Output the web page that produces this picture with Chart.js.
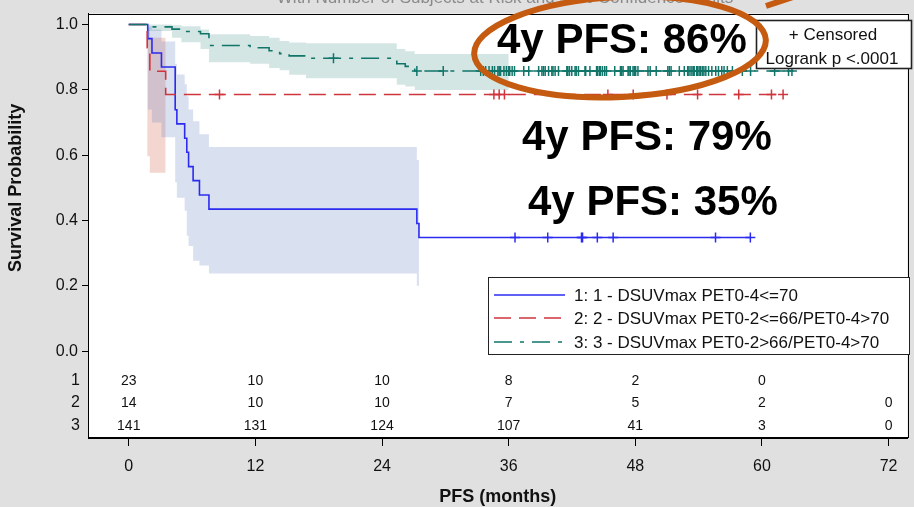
<!DOCTYPE html>
<html><head><meta charset="utf-8">
<script src="https://cdn.jsdelivr.net/npm/chart.js@4.4.1/dist/chart.umd.min.js"></script>
<style>html,body{margin:0;padding:0;background:#e0e0e0;overflow:hidden}#wrap{width:914px;height:507px;position:relative}</style>
</head><body><div id="wrap"><canvas id="c" width="914" height="507"></canvas></div>
<script>
// ---------- data ----------
const xTicks = [0, 12, 24, 36, 48, 60, 72];
const yTicks = [0, 0.2, 0.4, 0.6, 0.8, 1.0];
const groupNames = ['1: 1 - DSUVmax PET0-4<=70', '2: 2 - DSUVmax PET0-2<=66/PET0-4>70', '3: 3 - DSUVmax PET0-2>66/PET0-4>70'];
const riskRowLabels = ['1', '2', '3'];
const atRisk1 = [23, 10, 10, 8, 2, 0, null];
const atRisk2 = [14, 10, 10, 7, 5, 2, 0];
const atRisk3 = [141, 131, 124, 107, 41, 3, 0];

// Kaplan-Meier step curves (time in months, survival)
const g1Time = [0, 1.8, 2.2, 3.1, 4.4, 4.56, 5.3, 5.5, 5.67, 6.1, 6.7, 7.6, 27.3, 27.5, 58.9];
const g1Surv = [1, 0.957, 0.913, 0.870, 0.739, 0.696, 0.652, 0.609, 0.565, 0.522, 0.478, 0.435, 0.391, 0.348, 0.348];
const g2Time = [0, 1.75, 2.0, 3.5, 62.0];
const g2Surv = [1, 0.929, 0.857, 0.786, 0.786];
const g3Time = [0, 1.7, 4.1, 5.0, 6.8, 7.6, 11.5, 13.3, 14.3, 15.2, 16.8, 25.4, 26.2, 27.1, 62.84];
const g3Surv = [1, 0.993, 0.986, 0.979, 0.972, 0.936, 0.929, 0.920, 0.911, 0.904, 0.897, 0.880, 0.872, 0.858, 0.858];

// censored times
const g1Cens = [36.6, 39.7, 42.9, 43.0, 44.4, 45.9, 55.6, 58.9];
const g2Cens = [8.6, 34.6, 35.1, 35.6, 45.4, 47.8, 51.0, 53.9, 57.8, 60.9, 62.0];
const g3Cens = [19.4, 27.3, 29.8, 33.35, 33.6, 33.82, 34.14, 34.45, 34.66, 34.98, 35.1, 35.23, 35.55, 35.79, 36.0, 36.1,
  36.33, 36.55, 37.43, 37.9, 38.84, 39.15, 39.3, 39.46, 39.78, 40.09, 40.2, 40.4, 40.72, 41.51, 41.6, 41.76, 41.98,
  42.29, 42.4, 42.61, 43.23, 43.3, 43.7, 44.33, 44.4, 44.58, 44.7, 44.89, 45.1, 45.27, 46.05, 46.59, 46.7, 46.84,
  47.31, 47.4, 47.53, 47.78, 47.9, 48.03, 48.25, 49.2, 49.41, 49.98, 51.08, 51.23, 51.39, 52.17, 52.64, 52.96, 53.0,
  53.18, 53.36, 53.5, 53.58, 53.81, 53.9, 54.05, 54.2, 54.37, 54.5, 54.68, 54.94, 55.25, 55.62, 55.88, 56.19, 56.41,
  56.72, 57.2, 58.14, 58.92, 61.2, 62.52, 62.84];

// 95% confidence bands (step)
const g1BandTime = [1.8, 2.2, 3.1, 4.4, 4.56, 5.3, 5.5, 5.67, 6.1, 6.7, 7.6, 27.3, 27.5];
const g1Upper = [0.995, 0.985, 0.948, 0.88, 0.847, 0.817, 0.78, 0.74, 0.704, 0.664, 0.625, 0.585, 0.585];
const g1Lower = [0.74, 0.70, 0.655, 0.517, 0.47, 0.43, 0.353, 0.322, 0.277, 0.262, 0.238, 0.20, 0.20];
const g2BandTime = [1.75, 2.0, 3.5];
const g2Upper = [0.99, 0.96, 0.96];
const g2Lower = [0.597, 0.546, 0.546];
const g3BandTime = [1.7, 4.1, 5.0, 6.8, 7.6, 11.5, 13.3, 14.3, 15.2, 16.8, 25.4, 26.2, 27.1, 36.0];
const g3Upper = [1.0, 0.998, 0.995, 0.985, 0.97, 0.965, 0.96, 0.95, 0.945, 0.943, 0.925, 0.918, 0.91, 0.91];
const g3Lower = [0.98, 0.96, 0.946, 0.925, 0.885, 0.88, 0.867, 0.86, 0.846, 0.836, 0.816, 0.81, 0.80, 0.80];

const annoTexts = ['4y PFS: 86%', '4y PFS: 79%', '4y PFS: 35%'];
const statLines = ['+ Censored', 'Logrank p <.0001'];
const topTitle = 'With Number of Subjects at Risk and 95% Confidence Limits';

// ---------- styles ----------
const C1 = '#2b2bf0', C2 = '#d0343c', C3 = '#11756a';
const F = "'Liberation Sans', Arial, sans-serif";

function pts(t, v) { return t.map((x, i) => ({ x: x, y: v[i] })); }
function survAt(t, s, x) { let v = s[0]; for (let i = 0; i < t.length; i++) { if (t[i] <= x) v = s[i]; } return v; }
function censPts(ct, t, s) { return ct.map(x => ({ x: x, y: survAt(t, s, x) })); }

const lineDs = (data, color, dash, order) => ({ data: data, borderColor: color, borderWidth: 1.6, borderDash: dash, stepped: true, pointRadius: 0, fill: false, order: order });
const censDs = (data, color, order) => ({ data: data, showLine: false, pointStyle: 'cross', pointRadius: 5, pointBorderColor: color, borderColor: color, pointBorderWidth: 1.5, order: order });
const bandUp = (data, color) => ({ data: data, stepped: true, borderWidth: 0, pointRadius: 0, fill: '+1', backgroundColor: color, order: 10 });
const bandLo = (data) => ({ data: data, stepped: true, borderWidth: 0, pointRadius: 0, fill: false, order: 10 });

const datasets = [
  bandUp(pts(g1BandTime, g1Upper), 'rgba(102,130,196,0.25)'), bandLo(pts(g1BandTime, g1Lower)),
  bandUp(pts(g2BandTime, g2Upper), 'rgba(220,120,100,0.30)'), bandLo(pts(g2BandTime, g2Lower)),
  bandUp(pts(g3BandTime, g3Upper), 'rgba(40,130,120,0.20)'), bandLo(pts(g3BandTime, g3Lower)),
  lineDs(pts(g1Time, g1Surv), C1, [], 3),
  lineDs(pts(g2Time, g2Surv), C2, [17, 8], 2),
  lineDs(pts(g3Time, g3Surv), C3, [18, 8, 4, 8], 1),
  censDs(censPts(g1Cens, g1Time, g1Surv), C1, 3),
  censDs(censPts(g2Cens, g2Time, g2Surv), C2, 2),
  censDs(censPts(g3Cens, g3Time, g3Surv), C3, 1)
];

const deco = {
  id: 'deco',
  beforeDraw(chart) {
    const ctx = chart.ctx, a = chart.chartArea;
    ctx.save();
    ctx.fillStyle = '#e0e0e0'; ctx.fillRect(0, 0, chart.width, chart.height);
    ctx.fillStyle = '#ffffff'; ctx.fillRect(a.left, a.top, a.right - a.left, a.bottom - a.top);
    ctx.restore();
  },
  afterDraw(chart) {
    const ctx = chart.ctx, a = chart.chartArea, xs = chart.scales.x, ys = chart.scales.y;
    ctx.save();
    // frame
    ctx.strokeStyle = '#000'; ctx.lineWidth = 1;
    ctx.strokeRect(Math.round(a.left) + 0.5, Math.round(a.top) + 0.5, Math.round(a.right - a.left), Math.round(a.bottom - a.top) - 1);
    // at-risk table
    const rows = [atRisk1, atRisk2, atRisk3];
    const rowY = [381, 403, 426];
    ctx.fillStyle = '#111'; ctx.textAlign = 'center'; ctx.textBaseline = 'middle';
    ctx.font = '14px ' + F;
    rows.forEach((r, ri) => r.forEach((v, i) => { if (v !== null) ctx.fillText(String(v), xs.getPixelForValue(xTicks[i]), rowY[ri]); }));
    ctx.font = '16px ' + F; ctx.textAlign = 'right';
    riskRowLabels.forEach((l, i) => ctx.fillText(l, 80, rowY[i]));
    // y title
    ctx.save(); ctx.translate(16, (ys.getPixelForValue(0) + ys.getPixelForValue(1)) / 2); ctx.rotate(-Math.PI / 2);
    ctx.textAlign = 'center'; ctx.font = 'bold 18px ' + F; ctx.fillStyle = '#111'; ctx.fillText('Survival Probability', 0, 0); ctx.restore();
    // legend
    ctx.fillStyle = '#fff'; ctx.fillRect(488.5, 277.5, 421, 77);
    ctx.strokeStyle = '#222'; ctx.lineWidth = 1; ctx.strokeRect(488.5, 277.5, 421, 77);
    const lgY = [295, 318, 342], cols = [C1, C2, C3], dashes = [[], [17, 8], [18, 8, 4, 8]];
    for (let i = 0; i < 3; i++) {
      ctx.beginPath(); ctx.setLineDash(dashes[i]); ctx.strokeStyle = cols[i]; ctx.lineWidth = 1.6;
      ctx.moveTo(494, lgY[i]); ctx.lineTo(565, lgY[i]); ctx.stroke();
    }
    ctx.setLineDash([]);
    ctx.fillStyle = '#111'; ctx.textAlign = 'left'; ctx.font = '17px ' + F;
    groupNames.forEach((n, i) => ctx.fillText(n, 574, lgY[i] + 1));
    // stats box
    ctx.fillStyle = '#fff'; ctx.fillRect(756.5, 20.5, 155, 48);
    ctx.strokeStyle = '#222'; ctx.strokeRect(756.5, 20.5, 155, 48);
    ctx.fillStyle = '#111'; ctx.textAlign = 'center'; ctx.font = '17px ' + F;
    ctx.fillText(statLines[0], 833, 35); ctx.fillText(statLines[1], 832, 59);
    // top title (cut off)
    ctx.fillStyle = '#8a8a8a'; ctx.font = '17px ' + F; ctx.textAlign = 'center'; ctx.textBaseline = 'alphabetic';
    ctx.fillText(topTitle, 505, 3);
    // big annotations
    ctx.fillStyle = '#000'; ctx.textAlign = 'left'; ctx.font = 'bold 42px ' + F;
    ctx.fillText(annoTexts[0], 497, 53);
    ctx.fillText(annoTexts[1], 522, 150);
    ctx.fillText(annoTexts[2], 528, 215);
    // ellipse + arrow
    ctx.strokeStyle = '#c55a11'; ctx.lineWidth = 6;
    ctx.beginPath(); ctx.ellipse(620, 47, 146, 50, -0.05, 0, Math.PI * 2); ctx.stroke();
    ctx.beginPath(); ctx.moveTo(766, 6); ctx.lineTo(802, -6); ctx.stroke();
    ctx.restore();
  }
};

new Chart(document.getElementById('c'), {
  type: 'line',
  data: { datasets: datasets },
  options: {
    responsive: false, animation: false, devicePixelRatio: 1,
    layout: { padding: { top: 13, right: 1, left: 0, bottom: 0 } },
    plugins: { legend: { display: false }, tooltip: { enabled: false }, filler: { drawTime: 'beforeDatasetsDraw' } },
    scales: {
      x: {
        type: 'linear', min: -3.86, max: 73.79,
        afterBuildTicks: s => { s.ticks = xTicks.map(v => ({ value: v })); },
        afterFit: s => { s.height = 69; },
        grid: { drawOnChartArea: false, drawTicks: true, tickLength: 8, color: '#000' },
        border: { display: true, color: '#000' },
        ticks: { color: '#111', font: { family: F, size: 16 }, padding: 11, maxRotation: 0 },
        title: { display: true, text: 'PFS (months)', color: '#111', font: { family: F, size: 18, weight: 'bold', lineHeight: 1 }, padding: { top: 0, bottom: 1 } }
      },
      y: {
        type: 'linear', min: -0.266, max: 1.0336,
        afterBuildTicks: s => { s.ticks = yTicks.map(v => ({ value: v })); },
        afterFit: s => { s.width = 88; },
        grid: { drawOnChartArea: false, drawTicks: true, tickLength: 6, color: '#000' },
        border: { display: true, color: '#000' },
        ticks: { color: '#111', font: { family: F, size: 16 }, padding: 4, callback: v => Number(v).toFixed(1) }
      }
    }
  },
  plugins: [deco]
});
</script></body></html>
